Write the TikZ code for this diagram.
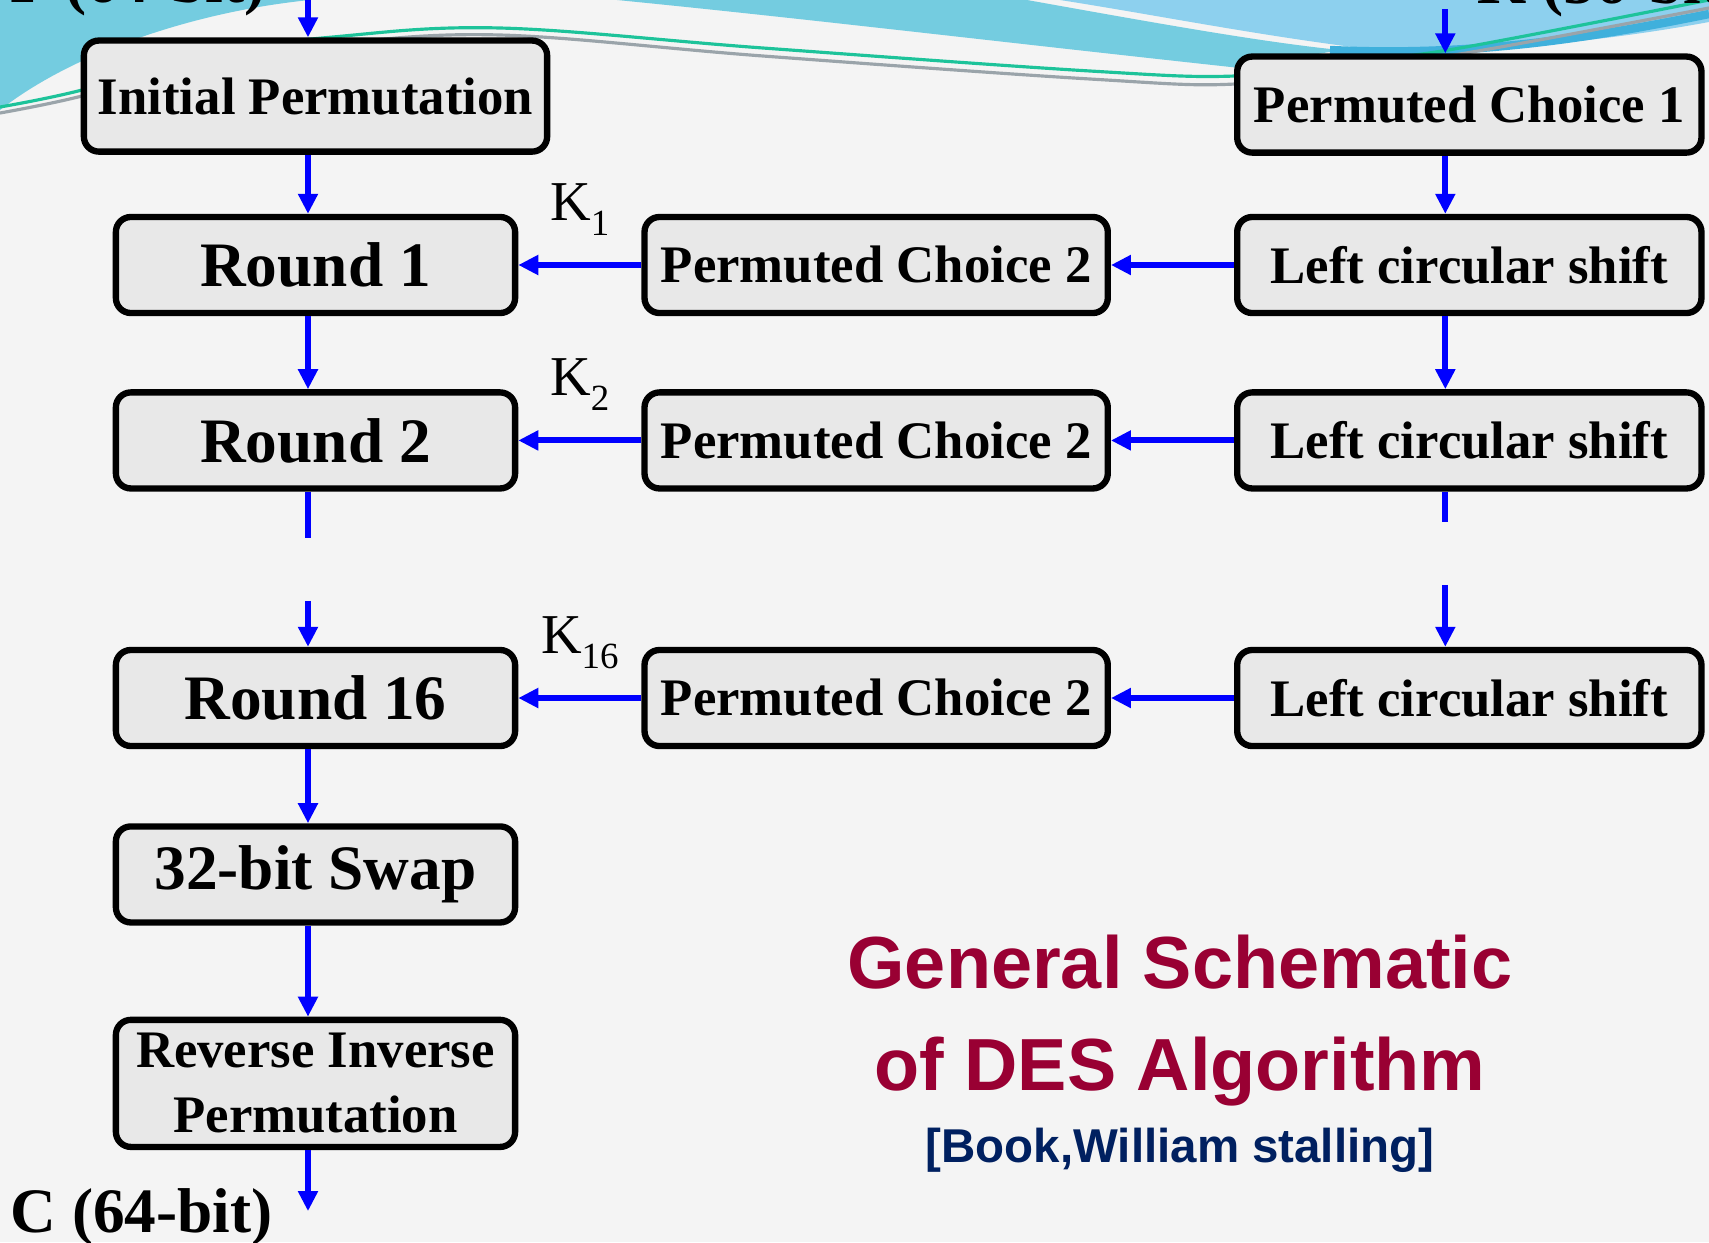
\documentclass[tikz,border=0pt]{standalone}
\usepackage{fontspec}
\setmainfont{Liberation Serif}
\newfontfamily\titlefont{Liberation Sans}
\usetikzlibrary{arrows.meta, positioning}
\definecolor{arrblue}{HTML}{0000FF}
\definecolor{boxgray}{HTML}{E8E8E8}
\definecolor{bggray}{HTML}{F4F4F4}
\definecolor{titlered}{HTML}{990033}
\definecolor{subnavy}{HTML}{002060}
\definecolor{wavecyan}{HTML}{74CCE0}
\definecolor{wavelight}{HTML}{8DD0EE}
\definecolor{wavedeep}{HTML}{3FB0DC}
\definecolor{lineteal}{HTML}{1DC39A}
\definecolor{linegrey}{HTML}{9AA4AA}
\newcommand{\ksub}[1]{\raisebox{-4.3pt}{\fontsize{10.5}{12}\selectfont #1}}

\begin{document}
\begin{tikzpicture}[
    x=0.01cm, y=-0.01cm,
    box/.style={rectangle, rounded corners=1.5mm, draw=black, line width=1.8pt,
                fill=boxgray, minimum width=3.99cm, minimum height=0.96cm,
                inner sep=0pt, align=center,
                font=\bfseries\fontsize{15}{18.5}\selectfont},
    bigbox/.style={box, font=\bfseries\fontsize{18}{21}\selectfont},
    keybox/.style={box, minimum width=4.63cm},
    arr/.style={-{Triangle[length=2mm, width=1.9mm]}, line width=1.7pt, arrblue},
    gapline/.style={line width=1.7pt, arrblue},
    klabel/.style={font=\fontsize{16}{18}\selectfont, inner sep=1pt, text=black},
    iotext/.style={font=\bfseries\fontsize{18}{21}\selectfont, inner sep=0pt,
                   anchor=base west},
    headline/.style={font=\titlefont\bfseries\fontsize{21}{25}\selectfont,
                     titlered, anchor=base}
  ]
  \useasboundingbox (0,0) rectangle (1709,1242);
  \clip (0,0) rectangle (1709,1242);
  \fill[bggray] (0,0) rectangle (1709,1242);

  % slide background waves
  \fill[wavecyan] (0,0) -- (310,0) .. controls (190,12) and (70,55) .. (0,110) -- cycle;
  \fill[wavecyan] (617,0) -- (1027,0) .. controls (1150,22) and (1260,42) .. (1340,50)
    -- (1240,68) .. controls (1000,42) and (800,18) .. (617,0) -- cycle;
  \fill[wavelight] (1060,0) -- (1709,0) -- (1709,22) .. controls (1600,42) and (1480,54) .. (1360,48)
    .. controls (1250,34) and (1150,14) .. (1060,0) -- cycle;
  \draw[wavedeep, line width=2.4pt] (1330,50) .. controls (1480,57) and (1600,36) .. (1709,14);
  \draw[lineteal, line width=0.9pt] plot[smooth, tension=0.6] coordinates
    {(0,107) (82,90) (200,55) (333,37) (500,28) (763,48) (1090,71) (1235,76) (1350,62) (1460,48) (1709,0)};
  \draw[linegrey, line width=0.9pt] plot[smooth, tension=0.6] coordinates
    {(0,113) (82,96) (200,62) (333,44) (500,35) (763,56) (1090,79) (1235,84) (1350,66) (1460,54) (1709,8)};

  \node[iotext] (ptxt) at (10,2) {P (64-bit)};
  \node[iotext] (ktxt) at (1477,3) {K (56-bit)};
  \node[iotext] (ctxt) at (10,1232) {C (64-bit)};

  \node[bigbox] (r1) at (315.5,265) {Round 1};
  \node[box, minimum width=4.63cm, minimum height=1.11cm, above=0.59cm of r1] (ip) {Initial Permutation};
  \node[bigbox, below=0.73cm of r1] (r2) {Round 2};
  \node[bigbox] (r16) at (315.5,698) {Round 16};
  \node[bigbox, below=0.74cm of r16] (swap) {32-bit Swap};
  \node[box, minimum height=1.27cm, below=0.91cm of swap] (rip) {Reverse Inverse\\Permutation};

  \node[keybox, right=1.23cm of r1] (pc1row) {Permuted Choice 2};
  \node[keybox, right=1.23cm of r2] (pc2row) {Permuted Choice 2};
  \node[keybox, right=1.23cm of r16] (pc16row) {Permuted Choice 2};
  \node[keybox, minimum width=4.64cm, right=1.23cm of pc1row] (lcs1) {Left circular shift};
  \node[keybox, minimum width=4.64cm, right=1.23cm of pc2row] (lcs2) {Left circular shift};
  \node[keybox, minimum width=4.64cm, right=1.23cm of pc16row] (lcs16) {Left circular shift};
  \node[keybox, minimum width=4.64cm, above=0.58cm of lcs1] (pcone) {Permuted Choice 1};

  \coordinate (pin) at ([xshift=-0.75mm, yshift=0.5cm]ip.north);
  \coordinate (kin) at ([xshift=-2.4mm, yshift=0.44cm]pcone.north);
  \coordinate (lgapa) at ([xshift=-0.75mm, yshift=-0.46cm]r2.south);
  \coordinate (lgapb) at ([xshift=-0.75mm, yshift=0.46cm]r16.north);
  \coordinate (rgapa) at ([xshift=-2.4mm, yshift=-0.30cm]lcs2.south);
  \coordinate (rgapb) at ([xshift=-2.4mm, yshift=0.62cm]lcs16.north);
  \coordinate (cout) at ([xshift=-0.75mm, yshift=-0.61cm]rip.south);

  \draw[arr] (pin) -- ([xshift=-0.75mm]ip.north);
  \draw[arr] ([xshift=-0.75mm]ip.south) -- ([xshift=-0.75mm]r1.north);
  \draw[arr] ([xshift=-0.75mm]r1.south) -- ([xshift=-0.75mm]r2.north);
  \draw[gapline] ([xshift=-0.75mm]r2.south) -- (lgapa);
  \draw[arr] (lgapb) -- ([xshift=-0.75mm]r16.north);
  \draw[arr] ([xshift=-0.75mm]r16.south) -- ([xshift=-0.75mm]swap.north);
  \draw[arr] ([xshift=-0.75mm]swap.south) -- ([xshift=-0.75mm]rip.north);
  \draw[arr] ([xshift=-0.75mm]rip.south) -- (cout);

  \draw[arr] (kin) -- ([xshift=-2.4mm]pcone.north);
  \draw[arr] ([xshift=-2.4mm]pcone.south) -- ([xshift=-2.4mm]lcs1.north);
  \draw[arr] ([xshift=-2.4mm]lcs1.south) -- ([xshift=-2.4mm]lcs2.north);
  \draw[gapline] ([xshift=-2.4mm]lcs2.south) -- (rgapa);
  \draw[arr] (rgapb) -- ([xshift=-2.4mm]lcs16.north);

  \draw[arr] (lcs1) -- (pc1row);
  \draw[arr] (lcs2) -- (pc2row);
  \draw[arr] (lcs16) -- (pc16row);
  \draw[arr] (pc1row) -- (r1) node[midway, above=2.3mm, klabel] (k1) {K\ksub{1}};
  \draw[arr] (pc2row) -- (r2) node[midway, above=2.3mm, klabel] (k2) {K\ksub{2}};
  \draw[arr] (pc16row) -- (r16) node[midway, above=2.3mm, klabel] (k16) {K\ksub{16}};

  \node[headline] (ttl1) at (1180,988) {General Schematic};
  \node[headline] (ttl2) at (1180,1090) {of DES Algorithm};
  \node[headline, subnavy, font=\titlefont\bfseries\fontsize{13.5}{16}\selectfont] (src) at (1180,1162)
    {[Book,William stalling]};
\end{tikzpicture}
\end{document}
